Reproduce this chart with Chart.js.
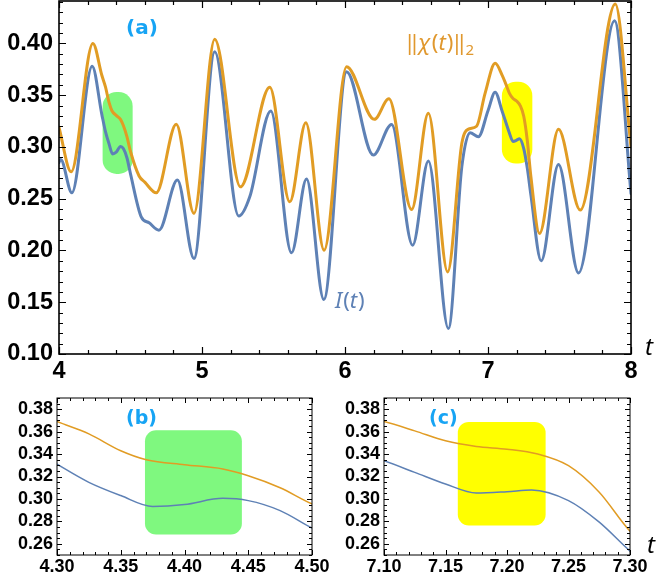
<!DOCTYPE html>
<html>
<head>
<meta charset="utf-8">
<script src="https://cdn.jsdelivr.net/npm/chart.js@4.4.1/dist/chart.umd.min.js"></script>
<style>
    html, body { margin: 0; padding: 0; background: #fff; }
    .panel { position: absolute; }
    #main { left: 0; top: 0; width: 658px; height: 385px; }
    #insetB { left: 0; top: 385px; width: 329px; height: 194px; }
    #insetC { left: 329px; top: 385px; width: 329px; height: 194px; }
</style>
</head>
<body>
<div class="panel" id="main"><canvas id="main-chart"></canvas></div>
<div class="panel" id="insetB"><canvas id="inset-b-chart"></canvas></div>
<div class="panel" id="insetC"><canvas id="inset-c-chart"></canvas></div>
<script>
// --- data ---
const chiT = [4.00, 4.085, 4.237, 4.30, 4.325, 4.35, 4.37, 4.40, 4.43, 4.45, 4.475, 4.50, 4.56, 4.60, 4.68,
    4.82, 4.944, 5.089, 5.269, 5.474, 5.614, 5.726, 5.854, 6.011, 6.205, 6.307, 6.466, 6.583, 6.718,
    6.817, 6.86, 6.92, 6.98, 7.05, 7.10, 7.125, 7.15, 7.175, 7.20, 7.225, 7.25, 7.275, 7.30, 7.36,
    7.493, 7.645, 7.89, 8.00];
const chiNorm = [0.319, 0.276, 0.400, 0.369, 0.358, 0.343, 0.335, 0.3305, 0.3267, 0.3207, 0.310, 0.2956, 0.272, 0.266, 0.2557,
    0.322, 0.2358, 0.404, 0.2615, 0.3576, 0.247, 0.3234, 0.2003, 0.3776, 0.3267, 0.3466, 0.2396, 0.3325, 0.1793,
    0.3035, 0.317, 0.320, 0.352, 0.3808, 0.369, 0.3607, 0.3518, 0.3468, 0.3444, 0.340, 0.3296, 0.306, 0.2713, 0.2164,
    0.317, 0.239, 0.438, 0.300];

const intT = [4.00, 4.012, 4.09, 4.232, 4.30, 4.325, 4.35, 4.375, 4.40, 4.43, 4.45, 4.475, 4.50, 4.575, 4.63, 4.699,
    4.828, 4.944, 5.089, 5.257, 5.334, 5.481, 5.626, 5.731, 5.852, 6.011, 6.198, 6.326, 6.473, 6.583, 6.723,
    6.817, 6.875, 6.933, 7.00, 7.05, 7.10, 7.125, 7.15, 7.175, 7.20, 7.22, 7.25, 7.275, 7.30, 7.372,
    7.493, 7.633, 7.885, 8.00];
const intensity = [0.285, 0.288, 0.2557, 0.378, 0.331, 0.3148, 0.303, 0.2933, 0.295, 0.3005, 0.2985, 0.2896, 0.274, 0.2325, 0.2267, 0.2196,
    0.268, 0.1922, 0.392, 0.2332, 0.2518, 0.3347, 0.1977, 0.269, 0.1526, 0.3727, 0.2922, 0.3218, 0.2051, 0.2864, 0.1246,
    0.281, 0.3137, 0.3099, 0.335, 0.3528, 0.334, 0.3237, 0.3133, 0.3053, 0.3065, 0.308, 0.2985, 0.2793, 0.2535, 0.190,
    0.2831, 0.1783, 0.422, 0.255];

const mainXTicks = [4, 5, 6, 7, 8];
const mainYTicks = [0.10, 0.15, 0.20, 0.25, 0.30, 0.35, 0.40];
const insetBXTicks = [4.30, 4.35, 4.40, 4.45, 4.50];
const insetCXTicks = [7.10, 7.15, 7.20, 7.25, 7.30];
const insetYTicks = [0.26, 0.28, 0.30, 0.32, 0.34, 0.36, 0.38];

// highlighted regions (t from, t to, value from, value to)
const mainGreenRegion = [4.305, 4.515, 0.274, 0.353];
const mainYellowRegion = [7.097, 7.31, 0.284, 0.363];
const insetGreenRegion = [4.369, 4.445, 0.2683, 0.3613];
const insetYellowRegion = [7.16, 7.2314, 0.2763, 0.3687];

const BLUE = '#5e81b5';
const ORANGE = '#e19c24';
const GREEN = '#7ff87f';
const YELLOW = '#ffff00';
const LABEL_BLUE = '#17a4f4';

const toPoints = (xs, ys) => xs.map((x, i) => ({ x: x, y: ys[i] }));

// --- frame with inward ticks on all four sides ---
const frameTicks = {
    id: 'frameTicks',
    afterDatasetsDraw(chart, args, opts) {
        const { ctx, chartArea: a, scales: { x, y } } = chart;
        ctx.save();
        ctx.strokeStyle = '#000';
        ctx.lineWidth = opts.tickWidth;
        const mark = (scale, step, majors, horizontal) => {
            const n0 = Math.ceil(scale.min / step - 1e-6);
            const n1 = Math.floor(scale.max / step + 1e-6);
            for (let k = n0; k <= n1; k++) {
                const v = k * step;
                const isMajor = majors.some(m => Math.abs(m - v) < step / 10);
                const len = isMajor ? opts.major : opts.minor;
                const p = Math.round(scale.getPixelForValue(v)) + 0.5;
                ctx.beginPath();
                if (horizontal) {
                    ctx.moveTo(p, a.bottom); ctx.lineTo(p, a.bottom - len);
                    ctx.moveTo(p, a.top); ctx.lineTo(p, a.top + len);
                } else {
                    ctx.moveTo(a.left, p); ctx.lineTo(a.left + len, p);
                    ctx.moveTo(a.right, p); ctx.lineTo(a.right - len, p);
                }
                ctx.stroke();
            }
        };
        mark(x, opts.xStep, opts.xMajors, true);
        mark(y, opts.yStep, opts.yMajors, false);
        ctx.lineWidth = opts.frameWidth;
        ctx.strokeRect(a.left, a.top, a.width, a.height);
        ctx.restore();
    }
};

// --- rounded highlight boxes, drawn under the curves ---
const highlights = {
    id: 'highlights',
    beforeDatasetsDraw(chart, args, opts) {
        const { ctx, scales: { x, y } } = chart;
        ctx.save();
        opts.boxes.forEach(b => {
            const [t0, t1, v0, v1] = b.region;
            const x0 = x.getPixelForValue(t0), x1 = x.getPixelForValue(t1);
            const y0 = y.getPixelForValue(v1), y1 = y.getPixelForValue(v0);
            const r = Math.min(b.radius, (x1 - x0) / 2, (y1 - y0) / 2);
            ctx.fillStyle = b.color;
            ctx.beginPath();
            ctx.moveTo(x0 + r, y0);
            ctx.arcTo(x1, y0, x1, y1, r);
            ctx.arcTo(x1, y1, x0, y1, r);
            ctx.arcTo(x0, y1, x0, y0, r);
            ctx.arcTo(x0, y0, x1, y0, r);
            ctx.closePath();
            ctx.fill();
        });
        ctx.restore();
    }
};

// --- text labels made of styled pieces ---
const labels = {
    id: 'labels',
    afterDraw(chart, args, opts) {
        const ctx = chart.ctx;
        ctx.save();
        opts.items.forEach(item => {
            ctx.fillStyle = item.color;
            ctx.textBaseline = 'alphabetic';
            ctx.textAlign = 'left';
            let cx = item.x;
            item.parts.forEach(p => {
                ctx.font = p.font;
                ctx.fillText(p.text, cx, item.y + (p.dy || 0));
                cx += ctx.measureText(p.text).width + (p.gap || 0);
            });
        });
        ctx.restore();
    }
};

const MATH = '"Noto Sans"';
const mathText = (size, pieces) => pieces.map(([text, style]) => {
    if (style === 'sub') return { text: text, font: `${Math.round(size * 0.68)}px ${MATH}`, dy: size * 0.22 };
    return { text: text, font: `${style === 'i' ? 'italic ' : ''}${size}px ${MATH}`, gap: style === 'i' ? 1 : 0 };
});

const buildChart = (canvasId, cfg) => {
    const tickFont = { family: '"Liberation Sans", Arial, sans-serif', size: cfg.tickSize, weight: 'bold' };
    return new Chart(document.getElementById(canvasId).getContext('2d'), {
        type: 'line',
        data: {
            datasets: [
                { label: 'chi', data: toPoints(chiT, chiNorm), borderColor: ORANGE, borderWidth: cfg.lineWidth },
                { label: 'I', data: toPoints(intT, intensity), borderColor: BLUE, borderWidth: cfg.lineWidth }
            ]
        },
        options: {
            responsive: true,
            maintainAspectRatio: false,
            animation: false,
            devicePixelRatio: 1,
            layout: { padding: cfg.padding },
            elements: {
                point: { radius: 0, hoverRadius: 0 },
                line: { cubicInterpolationMode: 'monotone', fill: false, borderCapStyle: 'round' }
            },
            scales: {
                x: {
                    type: 'linear',
                    min: cfg.xMin,
                    max: cfg.xMax,
                    grid: { display: false, drawTicks: false },
                    border: { display: false },
                    afterBuildTicks: s => { s.ticks = cfg.xTicks.map(v => ({ value: v })); },
                    afterFit: s => { s.height = cfg.xHeight; s.paddingLeft = 0; s.paddingRight = 0; },
                    ticks: {
                        autoSkip: false, maxRotation: 0, padding: cfg.xPad,
                        color: '#000', font: tickFont,
                        callback: v => cfg.xFormat(v)
                    }
                },
                y: {
                    type: 'linear',
                    min: cfg.yMin,
                    max: cfg.yMax,
                    grid: { display: false, drawTicks: false },
                    border: { display: false },
                    afterBuildTicks: s => { s.ticks = cfg.yTicks.map(v => ({ value: v })); },
                    afterFit: s => { s.width = cfg.yWidth; s.paddingTop = 0; s.paddingBottom = 0; },
                    ticks: {
                        autoSkip: false, padding: cfg.yPad,
                        color: '#000', font: tickFont,
                        callback: v => v.toFixed(2)
                    }
                }
            },
            plugins: {
                legend: { display: false },
                tooltip: { enabled: false },
                frameTicks: cfg.frame,
                highlights: { boxes: cfg.boxes },
                labels: { items: cfg.labels }
            }
        },
        plugins: [highlights, frameTicks, labels]
    });
};

document.addEventListener('DOMContentLoaded', () => {
    // panel (a)
    buildChart('main-chart', {
        xMin: 4, xMax: 8, yMin: 0.10, yMax: 0.441,
        xTicks: mainXTicks, yTicks: mainYTicks,
        xFormat: v => String(v),
        tickSize: 23.5, lineWidth: 3,
        padding: { top: 1, right: 27, bottom: 0, left: 0 },
        xHeight: 31, yWidth: 59, xPad: 3, yPad: 6,
        frame: { xStep: 0.2, yStep: 0.01, xMajors: mainXTicks, yMajors: [0.10, 0.15, 0.20, 0.25, 0.30, 0.35, 0.40, 0.45],
            major: 7, minor: 4, tickWidth: 1.2, frameWidth: 1.6 },
        boxes: [
            { region: mainGreenRegion, color: GREEN, radius: 14 },
            { region: mainYellowRegion, color: YELLOW, radius: 14 }
        ],
        labels: [
            { x: 126, y: 34, color: LABEL_BLUE, parts: [{ text: '(a)', font: 'bold 20px "DejaVu Sans"' }] },
            { x: 406, y: 50, color: '#e0982e', parts: mathText(22, [['‖', 'n'], ['χ', 'i'], ['(', 'n'], ['t', 'i'], [')', 'n'], ['‖', 'n'], ['2', 'sub']]) },
            { x: 335, y: 308, color: BLUE, parts: mathText(22, [['I', 'i'], ['(', 'n'], ['t', 'i'], [')', 'n']]) },
            { x: 645, y: 355, color: '#000', parts: [{ text: 't', font: `italic 24px ${MATH}` }] }
        ]
    });

    // panel (b)
    buildChart('inset-b-chart', {
        xMin: 4.30, xMax: 4.50, yMin: 0.25, yMax: 0.39,
        xTicks: insetBXTicks, yTicks: insetYTicks,
        xFormat: v => v.toFixed(2),
        tickSize: 18, lineWidth: 1.5,
        padding: { top: 13, right: 17, bottom: 0, left: 0 },
        xHeight: 24, yWidth: 57, xPad: 1, yPad: 4,
        frame: { xStep: 0.01, yStep: 0.005, xMajors: insetBXTicks, yMajors: insetYTicks,
            major: 5, minor: 3, tickWidth: 1, frameWidth: 1 },
        boxes: [{ region: insetGreenRegion, color: GREEN, radius: 11 }],
        labels: [
            { x: 126, y: 39, color: LABEL_BLUE, parts: [{ text: '(b)', font: 'bold 19px "DejaVu Sans"' }] }
        ]
    });

    // panel (c)
    buildChart('inset-c-chart', {
        xMin: 7.10, xMax: 7.30, yMin: 0.25, yMax: 0.39,
        xTicks: insetCXTicks, yTicks: insetYTicks,
        xFormat: v => v.toFixed(2),
        tickSize: 18, lineWidth: 1.5,
        padding: { top: 13, right: 28, bottom: 0, left: 0 },
        xHeight: 24, yWidth: 55, xPad: 1, yPad: 4,
        frame: { xStep: 0.01, yStep: 0.005, xMajors: insetCXTicks, yMajors: insetYTicks,
            major: 5, minor: 3, tickWidth: 1, frameWidth: 1 },
        boxes: [{ region: insetYellowRegion, color: YELLOW, radius: 11 }],
        labels: [
            { x: 100, y: 39, color: LABEL_BLUE, parts: [{ text: '(c)', font: 'bold 19px "DejaVu Sans"' }] },
            { x: 318, y: 168, color: '#000', parts: [{ text: 't', font: `italic 24px ${MATH}` }] }
        ]
    });
});
</script>
</body>
</html>
